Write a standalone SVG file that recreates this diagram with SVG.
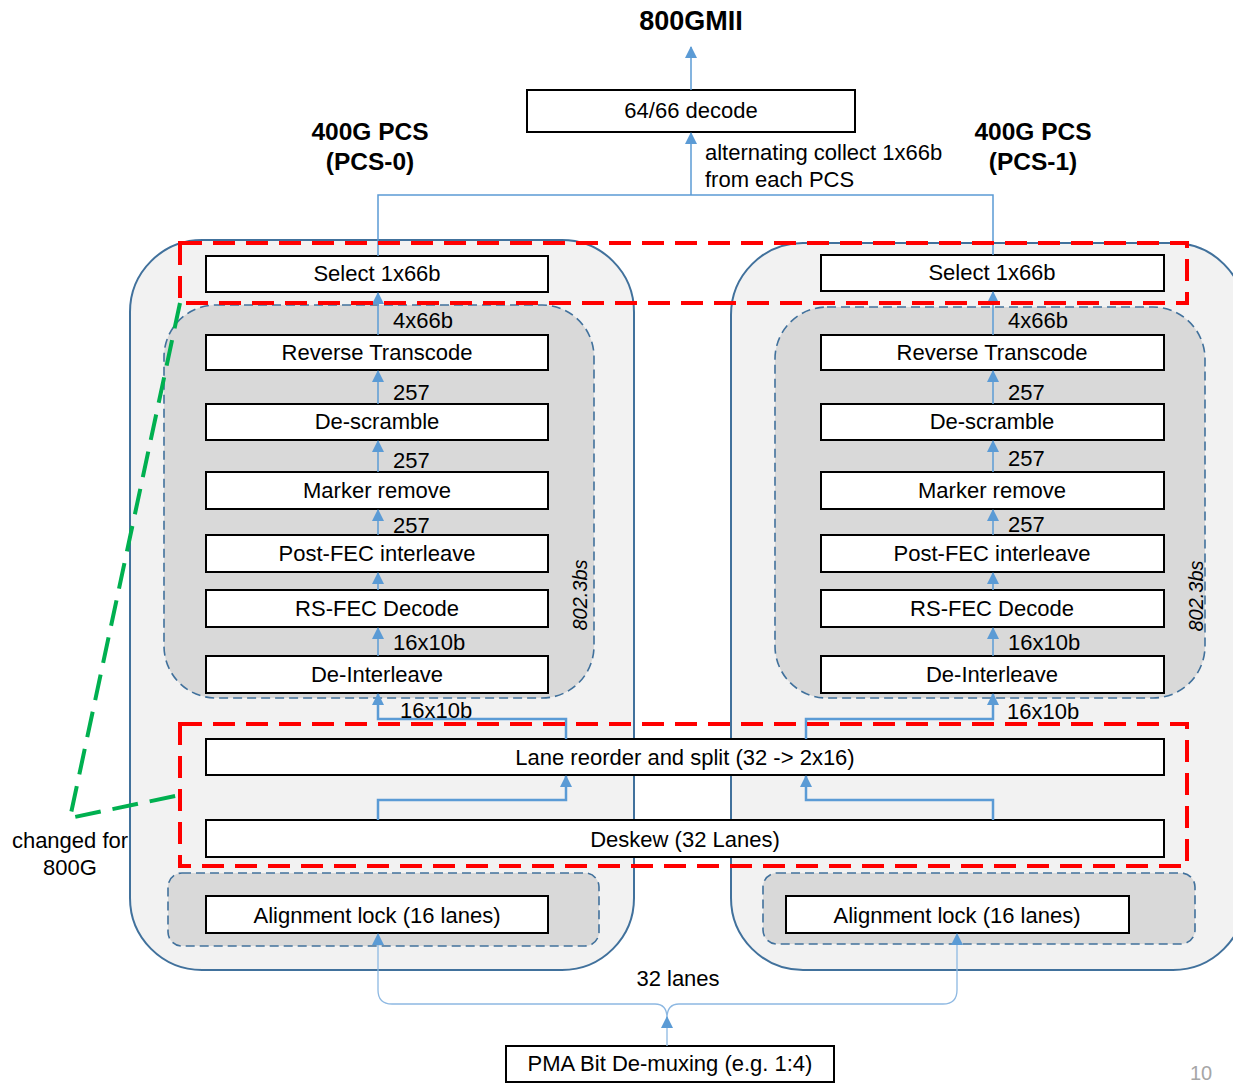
<svg xmlns="http://www.w3.org/2000/svg" width="1233" height="1084" viewBox="0 0 1233 1084">
<defs>
<marker id="ah" markerUnits="userSpaceOnUse" markerWidth="12" markerHeight="12" viewBox="0 0 12 12" refX="11" refY="6" orient="auto">
<path d="M0,0 L12,6 L0,12 Z" fill="#5B9BD5"/>
</marker>
<style>
text{font-family:"Liberation Sans",Arial,sans-serif;fill:#000}
.t{font-size:22px;text-anchor:middle}
.lb{font-size:22px}
.h{font-size:24.5px;font-weight:bold;text-anchor:middle}
.box{fill:#fff;stroke:#000;stroke-width:2}
.outer{fill:#F2F2F2;stroke:#41719C;stroke-width:2}
.inner{fill:#D9D9D9;stroke:#41719C;stroke-width:1.6;stroke-dasharray:9 5}
.red{fill:none;stroke:#FF0000;stroke-width:4;stroke-dasharray:22 11}
.c{fill:none;stroke:#5B9BD5;stroke-width:1.5}
.cl{fill:none;stroke:#8DB8E2;stroke-width:1.3}
.ct{fill:none;stroke:#5B9BD5;stroke-width:2.5}
.rot{font-size:20px;font-style:italic;text-anchor:middle}
</style>
</defs>

<g id="note">
<text class="t" x="70" y="848">changed for</text>
<text class="t" x="70" y="875">800G</text>
</g>

<g id="pcs0-outer"><rect class="outer" x="130" y="240" width="504" height="730" rx="72"/></g>
<g id="pcs1-outer"><rect class="outer" x="731" y="243" width="514" height="727" rx="72"/></g>

<g id="pcs0-inner"><rect class="inner" x="164" y="305" width="430" height="393" rx="52"/>
<text class="rot" transform="translate(587,595) rotate(-90)">802.3bs</text></g>
<g id="pcs1-inner"><rect class="inner" x="775" y="307" width="430" height="391" rx="52"/>
<text class="rot" transform="translate(1203,596) rotate(-90)">802.3bs</text></g>

<g id="align0-group"><rect class="inner" x="168" y="873" width="431" height="73" rx="14"/></g>
<g id="align1-group"><rect class="inner" x="763" y="873" width="432" height="71" rx="14"/></g>

<g id="title"><text class="h" x="691" y="30" style="font-size:27px">800GMII</text></g>
<g id="pcs0-label"><text class="h" x="370" y="140">400G PCS</text><text class="h" x="370" y="170">(PCS-0)</text></g>
<g id="pcs1-label"><text class="h" x="1033" y="140">400G PCS</text><text class="h" x="1033" y="170">(PCS-1)</text></g>

<g id="decode"><rect class="box" x="527" y="90" width="328" height="42"/><text class="t" x="691" y="118">64/66 decode</text></g>

<g id="select0"><rect class="box" x="206" y="256" width="342" height="36"/><text class="t" x="377" y="281">Select 1x66b</text></g>
<g id="revtc0"><rect class="box" x="206" y="335" width="342" height="35"/><text class="t" x="377" y="360">Reverse Transcode</text></g>
<g id="descr0"><rect class="box" x="206" y="404" width="342" height="36"/><text class="t" x="377" y="429">De-scramble</text></g>
<g id="marker0"><rect class="box" x="206" y="472" width="342" height="37"/><text class="t" x="377" y="498">Marker remove</text></g>
<g id="postfec0"><rect class="box" x="206" y="535" width="342" height="37"/><text class="t" x="377" y="561">Post-FEC interleave</text></g>
<g id="rsfec0"><rect class="box" x="206" y="590" width="342" height="37"/><text class="t" x="377" y="616">RS-FEC Decode</text></g>
<g id="deint0"><rect class="box" x="206" y="656" width="342" height="37"/><text class="t" x="377" y="682">De-Interleave</text></g>

<g id="select1"><rect class="box" x="821" y="255" width="343" height="36"/><text class="t" x="992" y="280">Select 1x66b</text></g>
<g id="revtc1"><rect class="box" x="821" y="335" width="343" height="35"/><text class="t" x="992" y="360">Reverse Transcode</text></g>
<g id="descr1"><rect class="box" x="821" y="404" width="343" height="36"/><text class="t" x="992" y="429">De-scramble</text></g>
<g id="marker1"><rect class="box" x="821" y="472" width="343" height="37"/><text class="t" x="992" y="498">Marker remove</text></g>
<g id="postfec1"><rect class="box" x="821" y="535" width="343" height="37"/><text class="t" x="992" y="561">Post-FEC interleave</text></g>
<g id="rsfec1"><rect class="box" x="821" y="590" width="343" height="37"/><text class="t" x="992" y="616">RS-FEC Decode</text></g>
<g id="deint1"><rect class="box" x="821" y="656" width="343" height="37"/><text class="t" x="992" y="682">De-Interleave</text></g>

<g id="lanereorder"><rect class="box" x="206" y="739" width="958" height="36"/><text class="t" x="685" y="765">Lane reorder and split (32 -&gt; 2x16)</text></g>
<g id="deskew"><rect class="box" x="206" y="820" width="958" height="37"/><text class="t" x="685" y="847">Deskew (32 Lanes)</text></g>

<g id="align0"><rect class="box" x="206" y="896" width="342" height="37"/><text class="t" x="377" y="923">Alignment  lock (16 lanes)</text></g>
<g id="align1"><rect class="box" x="786" y="896" width="343" height="37"/><text class="t" x="957" y="923">Alignment  lock (16 lanes)</text></g>

<g id="pma"><rect class="box" x="506" y="1046" width="328" height="36"/><text class="t" x="670" y="1071">PMA Bit De-muxing (e.g. 1:4)</text></g>

<g id="connectors">
<path class="c" d="M691,90 V47" marker-end="url(#ah)"/>
<path class="c" d="M378,256 V195 H993 V255"/>
<path class="c" d="M691,195 V133" marker-end="url(#ah)"/>
<path class="c" d="M378,335 V293" marker-end="url(#ah)"/>
<path class="c" d="M378,404 V371" marker-end="url(#ah)"/>
<path class="c" d="M378,472 V441" marker-end="url(#ah)"/>
<path class="c" d="M378,535 V510" marker-end="url(#ah)"/>
<path class="c" d="M378,590 V573" marker-end="url(#ah)"/>
<path class="c" d="M378,656 V628" marker-end="url(#ah)"/>
<path class="c" d="M993,335 V292" marker-end="url(#ah)"/>
<path class="c" d="M993,404 V371" marker-end="url(#ah)"/>
<path class="c" d="M993,472 V441" marker-end="url(#ah)"/>
<path class="c" d="M993,535 V510" marker-end="url(#ah)"/>
<path class="c" d="M993,590 V573" marker-end="url(#ah)"/>
<path class="c" d="M993,656 V628" marker-end="url(#ah)"/>
<path class="ct" d="M566,739 V719 H378 V694" marker-end="url(#ah)"/>
<path class="ct" d="M806,739 V719 H993 V694" marker-end="url(#ah)"/>
<path class="ct" d="M378,820 V800 H566 V776" marker-end="url(#ah)"/>
<path class="ct" d="M993,820 V800 H806 V776" marker-end="url(#ah)"/>
<path class="cl" d="M378,990 V934" marker-end="url(#ah)"/>
<path class="cl" d="M957,990 V934" marker-end="url(#ah)"/>
<path class="cl" d="M378,990 Q378,1004 392,1004 H655 Q667,1004 667,1018 Q667,1004 679,1004 H943 Q957,1004 957,990"/>
<path class="cl" d="M667,1046 V1017" marker-end="url(#ah)"/>
</g>

<g id="connector-labels">
<text class="lb" x="393" y="328">4x66b</text>
<text class="lb" x="393" y="400">257</text>
<text class="lb" x="393" y="468">257</text>
<text class="lb" x="393" y="533">257</text>
<text class="lb" x="393" y="650">16x10b</text>
<text class="lb" x="400" y="718">16x10b</text>
<text class="lb" x="1008" y="328">4x66b</text>
<text class="lb" x="1008" y="400">257</text>
<text class="lb" x="1008" y="466">257</text>
<text class="lb" x="1008" y="532">257</text>
<text class="lb" x="1008" y="650">16x10b</text>
<text class="lb" x="1007" y="719">16x10b</text>
<text class="lb" x="705" y="160">alternating  collect  1x66b</text>
<text class="lb" x="705" y="187">from each PCS</text>
<text class="t" x="678" y="986">32 lanes</text>
</g>

<g id="highlights">
<rect class="red" x="180" y="243" width="1007" height="60"/>
<rect class="red" x="180" y="724" width="1007" height="142"/>
<path d="M180,303 L70,818 L180,795" fill="none" stroke="#00B050" stroke-width="4" stroke-dasharray="26 12"/>
</g>

<g id="page"><text x="1201" y="1080" style="font-size:20px;fill:#A6A6A6;text-anchor:middle">10</text></g>
</svg>
